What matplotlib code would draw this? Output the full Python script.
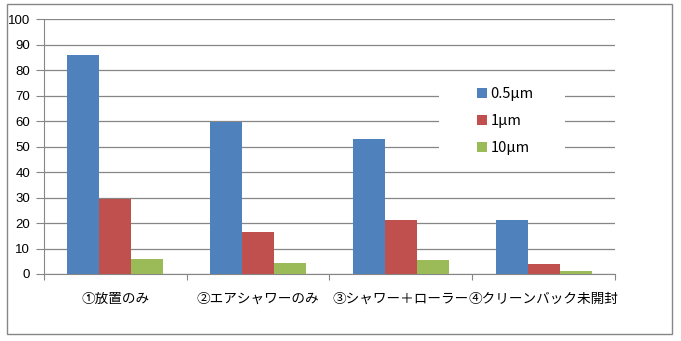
import matplotlib
matplotlib.use('Agg')
import numpy as np
import matplotlib.pyplot as plt
from matplotlib.patches import Rectangle

plt.rcParams['font.family'] = ['Noto Sans CJK JP', 'DejaVu Sans']

# 条件ごとの粒子数
categories = ['①放置のみ', '②エアシャワーのみ', '③シャワー＋ローラー', '④クリーンバック未開封']
series_labels = ['0.5\u03bcm', '1\u03bcm', '10\u03bcm']
val_05um = [86.1, 59.5, 53.0, 21.3]
val_1um = [29.3, 16.3, 21.3, 4.0]
val_10um = [6.0, 4.5, 5.3, 1.3]
yticks = [0, 10, 20, 30, 40, 50, 60, 70, 80, 90, 100]

colors = ['#4F81BD', '#C0504D', '#9BBB59']
grid_c = '#868686'

fig = plt.figure(figsize=(6.81, 3.41), dpi=100)
ax = fig.add_axes([0.0646, 0.1965, 0.8384, 0.7475])

# グラフ外枠
fig.patches.append(Rectangle((0.0103, 0.0205), 0.9765, 0.968, transform=fig.transFigure,
                             fill=False, edgecolor=grid_c, linewidth=1.0))

x = np.arange(len(categories))
w = 0.224
for i, vals in enumerate([val_05um, val_1um, val_10um]):
    ax.bar(x + (i - 1) * w, vals, width=w, color=colors[i], label=series_labels[i], zorder=3)

ax.set_xlim(-0.5, len(categories) - 0.5)
ax.set_ylim(0, 100)
ax.set_yticks(yticks)
ax.set_yticklabels([str(v) for v in yticks], fontsize=9.5, family=['Liberation Sans', 'DejaVu Sans'])
ax.yaxis.grid(True, color=grid_c, linewidth=0.9, zorder=0)
ax.set_axisbelow(True)

# カテゴリ名は区切り目盛りの間に置く
ax.set_xticks(np.arange(len(categories) + 1) - 0.5)
ax.set_xticklabels([])
ax.set_xticks(x, minor=True)
ax.set_xticklabels(categories, minor=True, fontsize=9.8)
ax.tick_params(axis='x', which='minor', length=0, pad=13)
ax.tick_params(axis='x', which='major', length=4, color=grid_c, direction='out')
ax.tick_params(axis='y', length=6, color=grid_c, pad=4)

for s in ['top', 'right']:
    ax.spines[s].set_visible(False)
for s in ['left', 'bottom']:
    ax.spines[s].set_color(grid_c)

# 凡例の背景(目盛線を隠す)
ax.add_patch(Rectangle((0.691, 0.44), 0.222, 0.345, transform=ax.transAxes,
                       facecolor='white', edgecolor='none', zorder=2))
leg = ax.legend(loc='upper left', bbox_to_anchor=(0.735, 0.785), frameon=False,
                fontsize=10.5, handlelength=0.7, handleheight=0.7,
                handletextpad=0.25, labelspacing=0.9)
leg.set_zorder(4)

fig.savefig('out.png', dpi=100)
